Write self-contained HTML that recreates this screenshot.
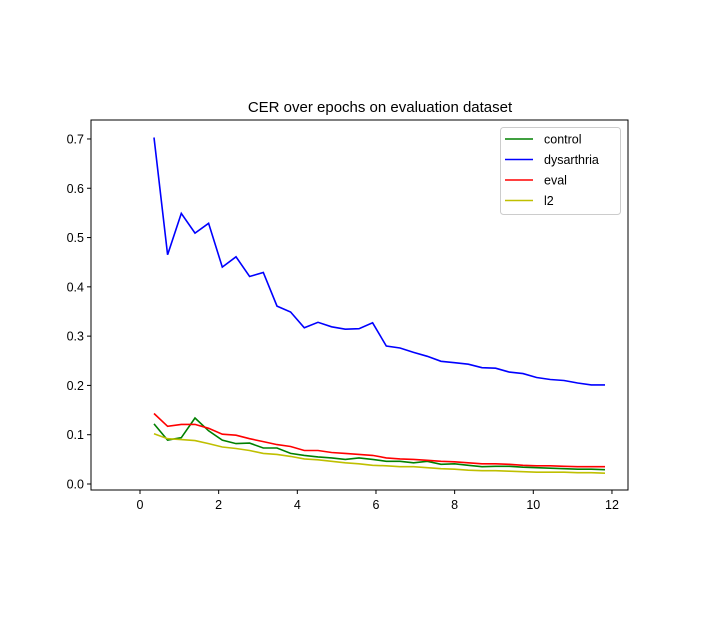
<!DOCTYPE html>
<html><head><meta charset="utf-8"><style>
body{margin:0;background:#fff;}
svg text{font-family:"Liberation Sans","DejaVu Sans",sans-serif;}
</style></head><body>
<svg id="chart" width="727" height="613" xmlns="http://www.w3.org/2000/svg">
<text x="380" y="112" font-size="15" text-anchor="middle">CER over epochs on evaluation dataset</text>
<g id="axes"></g>
<g id="series"></g>
<rect x="91" y="120" width="537" height="370" fill="none" stroke="#000" stroke-width="1"/>
<g>
<rect x="500.5" y="127.5" width="120" height="87" rx="3" fill="#fff" fill-opacity="0.8" stroke="#ccc"/>
<g id="legend-items"></g>
</g>
</svg>
<script>
const dysarthria=[0.703,0.465,0.549,0.509,0.529,0.440,0.461,0.421,0.429,0.361,0.349,0.317,0.328,0.319,0.314,0.315,0.327,0.280,0.276,0.267,0.259,0.249,0.246,0.243,0.236,0.235,0.227,0.224,0.216,0.212,0.210,0.205,0.201,0.201];
const evalS=[0.143,0.117,0.121,0.121,0.113,0.101,0.099,0.092,0.086,0.080,0.076,0.068,0.068,0.064,0.062,0.060,0.058,0.053,0.051,0.050,0.048,0.046,0.045,0.043,0.041,0.041,0.040,0.038,0.037,0.037,0.036,0.035,0.035,0.035];
const control=[0.122,0.089,0.094,0.134,0.108,0.089,0.082,0.083,0.073,0.073,0.062,0.058,0.055,0.053,0.050,0.053,0.050,0.046,0.046,0.043,0.046,0.040,0.041,0.038,0.035,0.036,0.036,0.034,0.033,0.032,0.031,0.030,0.030,0.029];
const l2=[0.102,0.092,0.090,0.088,0.082,0.075,0.072,0.068,0.062,0.060,0.056,0.051,0.049,0.046,0.043,0.041,0.038,0.037,0.035,0.035,0.033,0.031,0.030,0.028,0.027,0.027,0.026,0.025,0.024,0.024,0.024,0.023,0.023,0.022];
const epochStart=0.355;
const epochStep=0.3475;
const xTicks=[0,2,4,6,8,10,12];
const yTicks=[0.0,0.1,0.2,0.3,0.4,0.5,0.6,0.7];
const seriesNames=["control","dysarthria","eval","l2"];
const seriesColors=["#008000","#0000ff","#ff0000","#bfbf00"];
const NS="http://www.w3.org/2000/svg";
function xs(v){return 140+v*39.33;}
function ys(v){return 484-v*492.9;}
function mk(t,a,p){const e=document.createElementNS(NS,t);for(const k in a)e.setAttribute(k,a[k]);p.appendChild(e);return e;}
const axes=document.getElementById('axes');
xTicks.forEach(t=>{const x=xs(t);
 const l=mk('line',{x1:x,x2:x,y1:490,y2:494,stroke:'#000'},axes);
 
 
 const tx=mk('text',{x:x,y:509,'font-size':12.5,'text-anchor':'middle'},axes);tx.textContent=t;
 
 });
yTicks.forEach(t=>{const y=ys(t);
 const l=mk('line',{x1:87,x2:91,y1:y,y2:y,stroke:'#000'},axes);
 
 
 const tx=mk('text',{x:84,y:y+4.5,'font-size':12.5,'text-anchor':'end'},axes);tx.textContent=t.toFixed(1);
 
 });
const sg=document.getElementById('series');
[control,dysarthria,evalS,l2].forEach((d,i)=>{
 const pts=d.map((v,j)=>xs(epochStart+j*epochStep).toFixed(1)+','+ys(v).toFixed(1)).join(' ');
 const p=mk('polyline',{points:pts,fill:'none',stroke:seriesColors[i],'stroke-width':1.6},sg);
 
 });
const lg=document.getElementById('legend-items');
seriesNames.forEach((n,i)=>{const y=139+i*20.5;
 const l=mk('line',{x1:505,x2:533,y1:y,y2:y,stroke:seriesColors[i],'stroke-width':1.6},lg);
 
 
 const t=mk('text',{x:544,y:y+4.5,'font-size':12.5},lg);t.textContent=n;
 
 });
</script>
</body></html>
